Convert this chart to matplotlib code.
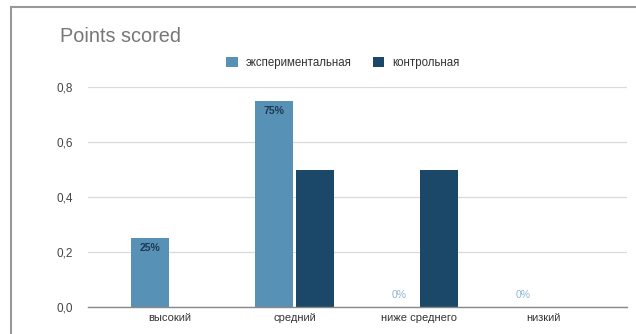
import matplotlib
matplotlib.use("Agg")
import matplotlib.pyplot as plt
from matplotlib.lines import Line2D
import numpy as np

plt.rcParams['font.family'] = ['Liberation Sans', 'DejaVu Sans']

categories = ["высокий", "средний", "ниже среднего", "низкий"]
series_names = ["экспериментальная", "контрольная"]
experimental = [0.25, 0.75, 0.0, 0.0]
control = [0.0, 0.5, 0.5, 0.0]
exp_labels = ["25%", "75%", "0%", "0%"]
yticks = [0.0, 0.2, 0.4, 0.6, 0.8]
ytick_labels = ["0,0", "0,2", "0,4", "0,6", "0,8"]

c_exp = "#5891b6"
c_ctl = "#1b4868"

fig = plt.figure(figsize=(6.36, 3.34), dpi=100)
ax = fig.add_axes([88/636, 1-307/334, (627-88)/636, (307-87)/334])

x = np.arange(len(categories))
w = 0.305
off = 0.163
ax.bar(x - off, experimental, w, color=c_exp, label=series_names[0], zorder=3)
ax.bar(x + off, control, w, color=c_ctl, label=series_names[1], zorder=3)

for xi, v, lab in zip(x, experimental, exp_labels):
    if v > 0:
        ax.text(xi - off, v - 0.018, lab, ha='center', va='top', fontsize=7.5,
                color='#1d3a52', fontweight='bold', zorder=4)
    else:
        ax.text(xi - off, v + 0.045, lab, ha='center', va='center', fontsize=7.5,
                color='#8fb3cf', zorder=4)

ax.set_xlim(-0.66, 3.67)
ax.set_ylim(0, 0.8)
ax.set_yticks(yticks)
ax.set_yticklabels(ytick_labels, fontsize=8.5, color='#444444')
ax.set_xticks(x)
ax.set_xticklabels(categories, fontsize=8, color='#333333')
ax.tick_params(axis='both', length=0, pad=4)
ax.tick_params(axis='y', pad=11)
ax.grid(axis='y', color='#d9d9d9', linewidth=0.9, zorder=0)
for s in ['top', 'right', 'left']:
    ax.spines[s].set_visible(False)
ax.spines['bottom'].set_color('#888888')
ax.spines['bottom'].set_linewidth(1.0)
ax.spines['bottom'].set_zorder(5)

fig.text(60/636, 1-36/334, "Points scored", fontsize=14.3, color='#777777',
         ha='left', va='center')

leg = fig.legend(loc='center', bbox_to_anchor=(343/636, 1-63/334), ncol=2,
                 frameon=False, fontsize=8.3, handlelength=1.0, handleheight=1.0,
                 columnspacing=1.8, handletextpad=0.7)
for t in leg.get_texts():
    t.set_color('#333333')

# frame border
fig.add_artist(Line2D([11/636, 11/636], [0, 1-7/334], transform=fig.transFigure,
                      color='#999999', linewidth=1.5))
fig.add_artist(Line2D([11/636, 1], [1-7/334, 1-7/334], transform=fig.transFigure,
                      color='#999999', linewidth=1.5))

fig.savefig("out.png", dpi=100)
